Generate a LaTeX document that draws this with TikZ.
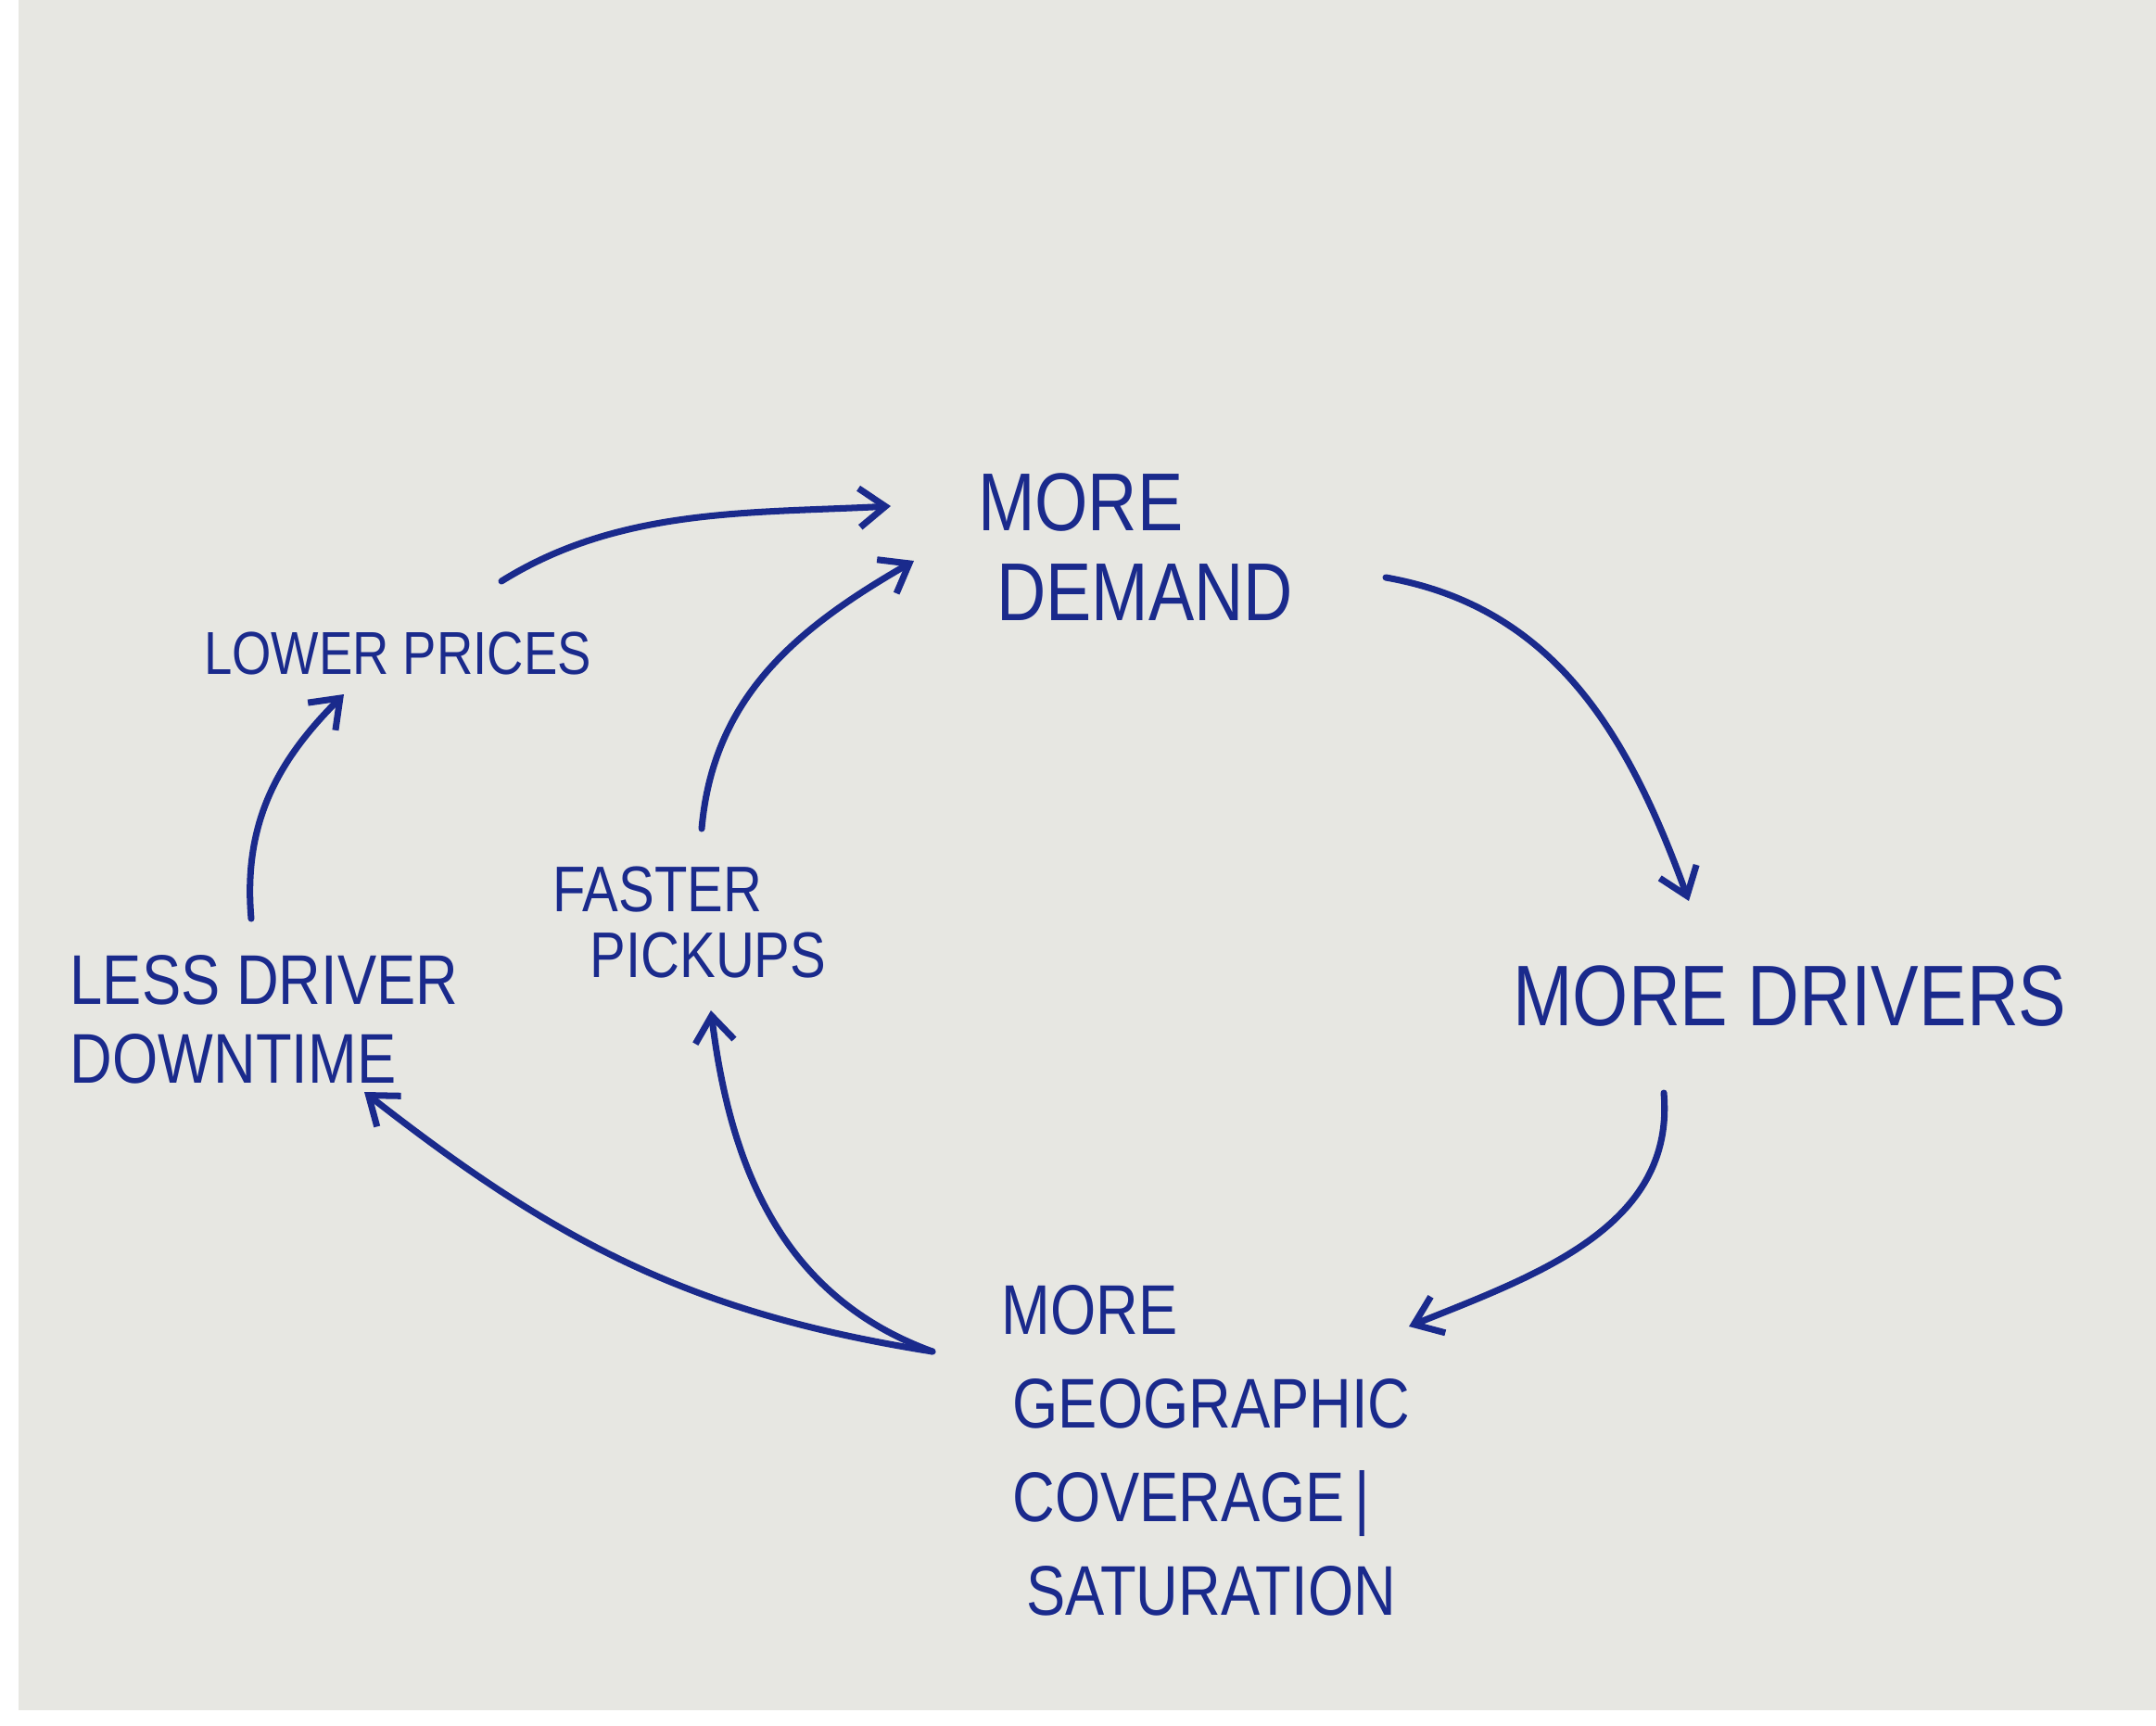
\documentclass[tikz,border=0pt]{standalone}
\usepackage{fontspec}
\setmainfont{Liberation Sans}
\usetikzlibrary{arrows.meta}
\definecolor{ink}{HTML}{1A2A8C}
\definecolor{paper}{HTML}{E7E7E2}
\tikzset{
  lbl/.style={text=ink, align=left, inner sep=0pt, yscale=1.2, anchor=center},
  conn/.style={draw=ink, line width=2pt, line cap=round,
    -{Straight Barb[length=0.28cm, width=0.42cm, line width=2pt]}},
}
\begin{document}
\begin{tikzpicture}
\useasboundingbox (0,0) rectangle (23.26,-18.62);
\fill[white] (0,0) rectangle (23.26,-18.62);
\fill[paper] (0.2,0) rectangle (23.26,-18.45);

\node[lbl, font=\fontsize{21}{23}\selectfont] (demand) at (12.25,-5.90) {MORE\\\hspace*{0.2cm}DEMAND};
\node[lbl, font=\fontsize{15.5}{18}\selectfont] (prices) at (4.29,-7.05) {LOWER PRICES};
\node[lbl, font=\fontsize{16.5}{17}\selectfont] (pickups) at (7.44,-9.95) {FASTER\\\hspace*{0.4cm}PICKUPS};
\node[lbl, font=\fontsize{18}{20}\selectfont] (downtime) at (2.85,-11.00) {LESS DRIVER\\DOWNTIME};
\node[lbl, font=\fontsize{22}{24}\selectfont] (drivers) at (19.31,-10.75) {MORE DRIVERS};
\node[lbl, font=\fontsize{18}{24}\selectfont] (geo) at (13.01,-15.65) {MORE\\\hspace*{0.12cm}GEOGRAPHIC\\\hspace*{0.12cm}COVERAGE\,|\\\hspace*{0.27cm}SATURATION};

\coordinate (a1s) at (5.41,-6.27);
\coordinate (a1e) at (9.61,-5.46);
\coordinate (a2s) at (7.57,-8.94);
\coordinate (a2e) at (9.86,-6.05);
\coordinate (a3s) at (14.95,-6.23);
\coordinate (a3e) at (18.22,-9.72);
\coordinate (a4s) at (17.95,-11.79);
\coordinate (a4e) at (15.20,-14.31);
\coordinate (gs) at (10.06,-14.58);
\coordinate (a5e) at (3.93,-11.78);
\coordinate (a6e) at (7.67,-10.90);
\coordinate (a7s) at (2.71,-9.91);
\coordinate (a7e) at (3.71,-7.49);

\draw[conn] (a1s) to[out=32, in=183, looseness=0.9] (a1e);
\draw[conn] (a2s) to[out=85, in=210] (a2e);
\draw[conn] (a3s) to[out=-10, in=110] (a3e);
\draw[conn] (a4s) to[out=-85, in=22] (a4e);
\draw[conn] (gs) to[out=171, in=-38] (a5e);
\draw[conn] (gs) to[out=160, in=-83] (a6e);
\draw[conn] (a7s) to[out=95, in=225] (a7e);
\end{tikzpicture}
\end{document}
